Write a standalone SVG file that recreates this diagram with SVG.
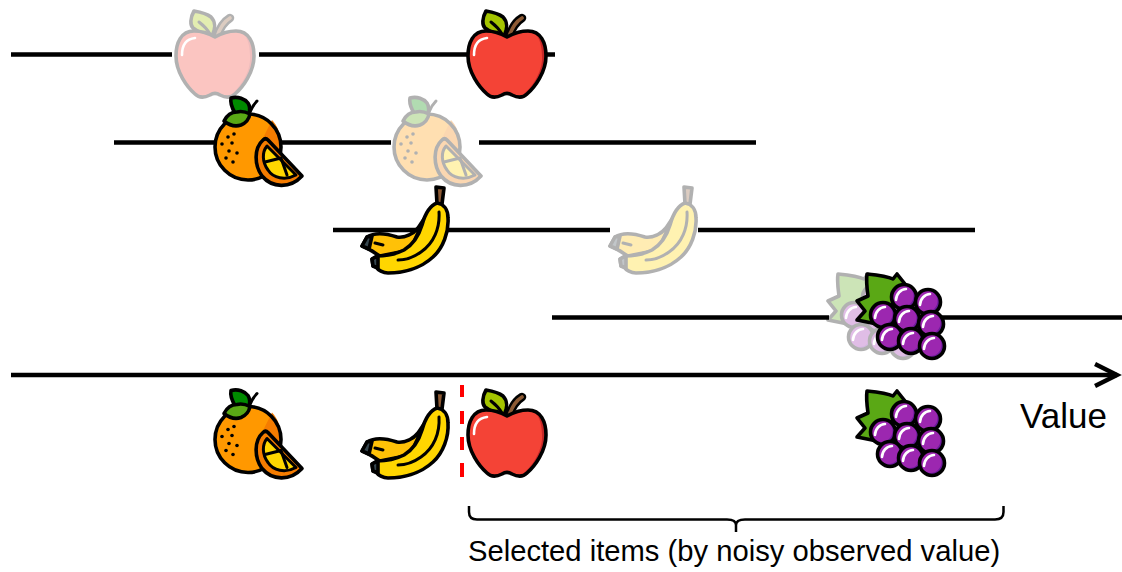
<svg xmlns="http://www.w3.org/2000/svg" xmlns:xlink="http://www.w3.org/1999/xlink" width="1122" height="572" viewBox="0 0 1122 572">
<style>
.ln{fill:none;stroke:#000;stroke-width:4.4}
.o{stroke:#000;stroke-width:3.6;stroke-linejoin:round;stroke-linecap:round}
.v{fill:none;stroke:#000;stroke-width:3;stroke-linecap:round;stroke-linejoin:round}
.hl{fill:none;stroke:#fff;stroke-width:2.6;stroke-linecap:round}
.faded{opacity:.3}
text{font-family:"Liberation Sans",Arial,sans-serif;fill:#000}
</style>
<defs>
<path id="apple-body" d="M507 37C500 33 493 31 486 31C473 31 468 43 468 56C468 72 479 87 487 94C492 99 498 97 502 95C505 93 509 93 512 95C516 97 522 99 527 94C535 87 546 72 546 56C546 43 541 31 528 31C521 31 514 33 507 37Z"/>
<g id="apple-icon">
<path d="M509 37C512 27 517 21 522 18" fill="none" stroke="#000" stroke-width="8.5" stroke-linecap="round"/>
<path d="M509 37C512 27 517 21 522 18" fill="none" stroke="#8d5a34" stroke-width="3.6" stroke-linecap="round"/>
<path class="o" fill="#a4c400" d="M486 11C482 18 482 25 485 28C490 32 497 35 504 36C508 28 507 21 503 17C498 13 492 12 486 11Z"/>
<path class="v" d="M491 22C495 25 499 29 502 34"/>
<use href="#apple-body" fill="#c62828"/>
<path fill="#f44336" d="M507 37C500 33 493 31 486 31C473 31 468 43 468 56C468 72 479 87 487 94C492 99 498 97 502 95C505 93 509 93 512 95C516 97 520 98 524 94C532 87 543 72 542 56C542 43 538 31 528 31C521 31 514 33 507 37Z"/>
<use href="#apple-body" class="o" fill="none"/>
<path class="hl" d="M474 55C474 45 478 39 487 38"/>
</g>
<g id="orange-icon">
<path class="v" d="M250 112C252 107 254 104 257 101"/>
<circle cx="248" cy="147" r="33" fill="#ff9800"/>
<path fill="#f57c00" d="M262 140L272 120C282 130 283 150 279 160Z"/>
<circle cx="248" cy="147" r="33" fill="none" stroke="#000" stroke-width="3.6"/>
<path class="o" fill="#008a00" d="M231 98C238 96 245 99 248 103C250 106 250 110 249 114L235 113C232 108 230 103 231 98Z"/>
<path class="o" fill="#5aa815" d="M224 121C227 115 232 112 237 112C241 111 246 112 250 114C249 119 246 123 241 125C235 127 229 125 224 121Z"/>
<g fill="#000">
<circle cx="222" cy="144" r="1.8"/><circle cx="228" cy="137" r="1.8"/><circle cx="234" cy="134" r="1.8"/><circle cx="232" cy="143" r="1.8"/><circle cx="229" cy="151" r="1.8"/><circle cx="237" cy="153" r="1.8"/><circle cx="226" cy="158" r="1.8"/><circle cx="233" cy="162" r="1.8"/>
</g>
<path class="o" fill="#f57c00" d="M263 140C265 138 267 139 268 140L302 176C290 189 272 188 262 176C254 165 254 148 263 140Z"/>
<path fill="#ffd600" d="M267 146L296 175C285 181 273 178 268 170C262 162 262 152 267 146Z"/>
<path class="v" d="M267 146L296 175C285 181 273 178 268 170C262 162 262 152 267 146Z"/>
<path class="v" d="M265 162L281 158L287 175"/>
</g>
<g id="banana-icon">
<path class="o" fill="#8d5a34" d="M436 187L444 188L442 204L437 204Z"/>
<path class="o" fill="#ffc107" d="M367 237C375 232 385 233 397 237C405 238 413 234 418 228L426 216L410 250L380 256C376 254 373 251 370 250L362 246Z"/>
<path class="o" fill="#37474f" d="M367 237L372 236L369 249L362 246Z"/>
<path class="o" fill="#ffd600" d="M437 203C444 204 448 210 448 218C449 232 443 248 433 257C420 269 402 273 388 273C383 273 378 270 376 267L373 266L372 259L377 256C385 256 396 254 404 250C414 244 419 235 422 225C425 214 429 206 437 203Z"/>
<path class="o" fill="#37474f" d="M372 259L378 256L378 268L373 266Z"/>
<path class="v" d="M439 212C440 228 434 243 421 252C414 257 406 260 398 260"/>
<path class="v" d="M375 243L383 245"/>
</g>
<g id="grape">
<circle r="12.5" fill="#6a1b9a"/>
<circle cx="-1.5" cy="-1" r="11" fill="#9c27b0"/>
<circle r="12.5" fill="none" stroke="#000" stroke-width="3.6"/>
<path class="hl" d="M-8 3C-8 -3 -3 -8 2 -8"/>
</g>
<g id="grapes-icon">
<path class="o" fill="#5aa815" d="M867 274C877 275 887 276 893 279L897 274L905 284L880 325L872 323L857 320L865 311L857 301L868 296C867 289 866 281 867 274Z"/>
<use href="#grape" x="904" y="297"/>
<use href="#grape" x="928" y="302"/>
<use href="#grape" x="883" y="315"/>
<use href="#grape" x="907" y="319"/>
<use href="#grape" x="931" y="324"/>
<use href="#grape" x="890" y="337"/>
<use href="#grape" x="911" y="341"/>
<use href="#grape" x="932" y="346"/>
</g>
</defs>
<g id="connectors">
<path class="ln" d="M11 54.5H172M259 54.5H555"/>
<path class="ln" d="M114 142.5H391M479 142.5H756"/>
<path class="ln" d="M333 230H610M698 230H975"/>
<path class="ln" d="M552 317.5H829M915 317.5H1122"/>
<path class="ln" d="M11 375H1117"/>
<path class="ln" d="M1097 365L1117 375L1097 385" stroke-linecap="square"/>
<path fill="none" stroke="#ff0000" stroke-width="4" d="M462 385V397M462 411V424M462 437V450M462 463V477"/>
<path fill="none" stroke="#000" stroke-width="2.5" d="M469 506V512C469 517 472 519.5 477 519.5H727C732 519.5 736 521 736 525V532M736 525C736 521 740 519.5 745 519.5H995C1000 519.5 1003.5 517 1003.5 512V506"/>
</g>
<g id="apple-faded" class="faded"><use href="#apple-icon" x="-292"/></g>
<g id="apple"><use href="#apple-icon"/></g>
<g id="orange-faded" class="faded"><use href="#orange-icon" x="179"/></g>
<g id="orange"><use href="#orange-icon"/></g>
<g id="banana-faded" class="faded"><use href="#banana-icon" x="248"/></g>
<g id="banana"><use href="#banana-icon"/></g>
<g id="grapes-faded" class="faded"><use href="#grapes-icon" x="-29"/></g>
<g id="grapes"><use href="#grapes-icon"/></g>
<g id="orange-selected"><use href="#orange-icon" y="292.5"/></g>
<g id="banana-selected"><use href="#banana-icon" y="205"/></g>
<g id="apple-selected"><use href="#apple-icon" y="379"/></g>
<g id="grapes-selected"><use href="#grapes-icon" y="117"/></g>
<text id="axis-label" x="1020" y="428" font-size="35">Value</text>
<text id="selection-label" x="468" y="561" font-size="29.2">Selected items (by noisy observed value)</text>
</svg>
